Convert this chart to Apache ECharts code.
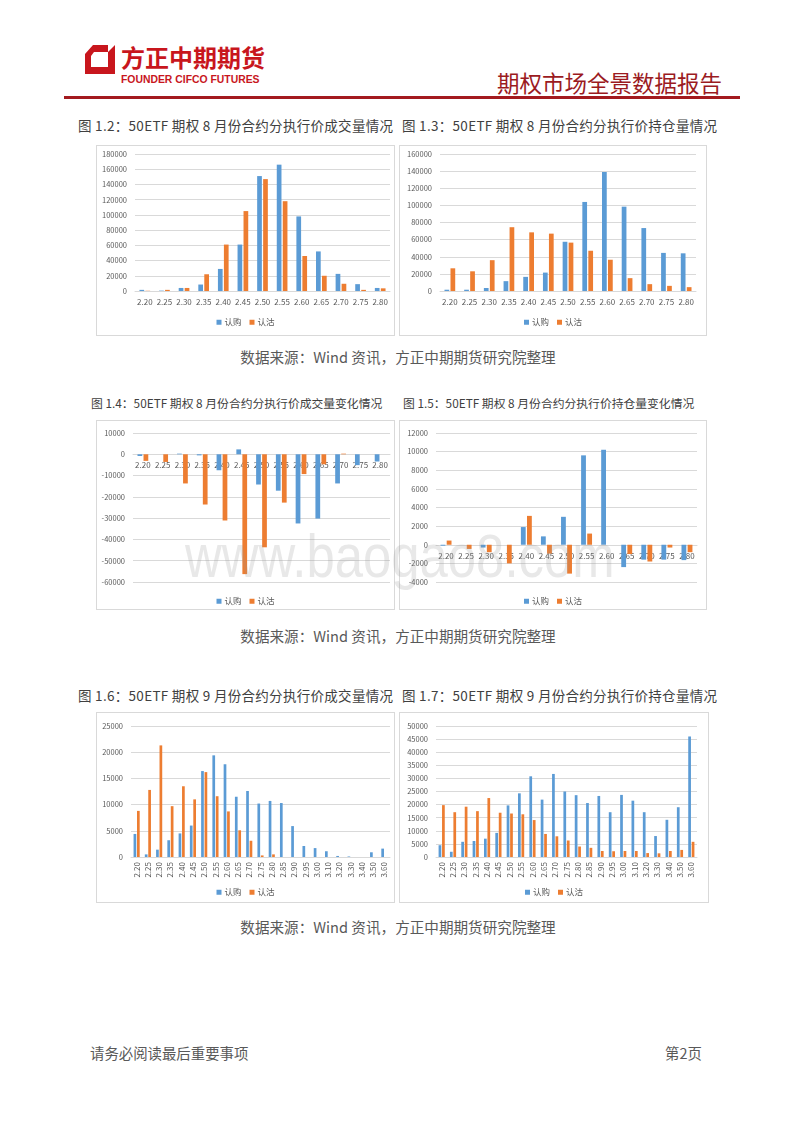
<!DOCTYPE html>
<html>
<head>
<meta charset="utf-8">
<script src="https://cdn.jsdelivr.net/npm/echarts@6/dist/echarts.min.js"></script>
<style>
  html, body { margin: 0; padding: 0; background: #fff; }
  body { width: 800px; height: 1132px; position: relative; overflow: hidden; font-family: "Noto Sans CJK SC", "Noto Sans", sans-serif; }
  .abs { position: absolute; white-space: nowrap; }
  .box { position: absolute; border: 1px solid #d9d9d9; box-sizing: border-box; background: #fff; }
  .chart { position: absolute; left: 0; top: 0; }
  .cap1 { font-size: 13.5px; letter-spacing: 0.3px; color: #404040; height: 20px; line-height: 20px; }
  .cap2 { font-size: 11.8px; color: #404040; height: 18px; line-height: 18px; }
  .src { font-size: 14.6px; color: #595959; width: 800px; text-align: center; left: -2px; height: 20px; line-height: 20px; }
  .foot { font-size: 14.4px; color: #595959; height: 20px; line-height: 20px; }
</style>
</head>
<body>
<!-- header -->
<svg class="abs" style="left:84px;top:45px" width="32" height="30" viewBox="0 0 32 30">
  <path d="M9 0 L31 0 L31 29 L1 29 L1 9 Z M10 7 L7 11 L7 22 L24 22 L24 7 Z" fill="#c8161d" fill-rule="evenodd"/>
  <path d="M24 0 L31 0 L24 7 Z" fill="#fff"/>
</svg>
<div class="abs" style="left:121px;top:43px;font-size:24px;font-weight:bold;color:#c8161d;height:28px;line-height:28px;">方正中期期货</div>
<div class="abs" style="left:121px;top:73px;font-family:'Liberation Sans',sans-serif;font-size:10.4px;font-weight:bold;color:#c8161d;height:13px;line-height:13px;">FOUNDER CIFCO FUTURES</div>
<div class="abs" style="left:497px;top:68px;font-size:22.5px;color:#9b1b1f;height:28px;line-height:28px;">期权市场全景数据报告</div>
<div class="abs" style="left:64px;top:96px;width:676px;height:3px;background:#a31a1f;"></div>

<!-- row 1 -->
<div class="abs cap1" style="left:78px;top:115px;">图 1.2：50ETF 期权 8 月份合约分执行价成交量情况</div>
<div class="abs cap1" style="left:402px;top:115px;">图 1.3：50ETF 期权 8 月份合约分执行价持仓量情况</div>
<div class="box" style="left:96px;top:145px;width:299px;height:191px;"><div id="c1" class="chart" style="width:297px;height:189px;"></div></div>
<div class="box" style="left:399px;top:145px;width:308px;height:191px;"><div id="c2" class="chart" style="width:306px;height:189px;"></div></div>
<div class="abs src" style="top:347px;">数据来源：Wind 资讯，方正中期期货研究院整理</div>

<!-- row 2 -->
<div class="abs cap2" style="left:91px;top:394px;">图 1.4：50ETF 期权 8 月份合约分执行价成交量变化情况</div>
<div class="abs cap2" style="left:403px;top:394px;">图 1.5：50ETF 期权 8 月份合约分执行价持仓量变化情况</div>
<div class="box" style="left:96px;top:420px;width:299px;height:190px;"><div id="c3" class="chart" style="width:297px;height:188px;"></div></div>
<div class="box" style="left:399px;top:420px;width:308px;height:190px;"><div id="c4" class="chart" style="width:306px;height:188px;"></div></div>
<div class="abs src" style="top:626px;">数据来源：Wind 资讯，方正中期期货研究院整理</div>

<!-- row 3 -->
<div class="abs cap1" style="left:78px;top:685px;">图 1.6：50ETF 期权 9 月份合约分执行价成交量情况</div>
<div class="abs cap1" style="left:402px;top:685px;">图 1.7：50ETF 期权 9 月份合约分执行价持仓量情况</div>
<div class="box" style="left:96px;top:712px;width:299px;height:191px;"><div id="c5" class="chart" style="width:297px;height:189px;"></div></div>
<div class="box" style="left:399px;top:712px;width:310px;height:191px;"><div id="c6" class="chart" style="width:308px;height:189px;"></div></div>
<div class="abs src" style="top:917px;">数据来源：Wind 资讯，方正中期期货研究院整理</div>

<!-- footer -->
<div class="abs foot" style="left:90px;top:1043px;">请务必阅读最后重要事项</div>
<div class="abs foot" style="left:665px;top:1043px;">第2页</div>

<!-- watermark -->
<div class="abs" style="left:185px;top:525px;font-family:'Liberation Sans',sans-serif;font-size:62px;line-height:62px;height:62px;color:rgba(150,150,150,0.22);transform:scaleX(0.82);transform-origin:left top;pointer-events:none;z-index:10;">www.baogao8.com</div>

<script>
// ---------- data ----------
const strikes8 = ['2.20','2.25','2.30','2.35','2.40','2.45','2.50','2.55','2.60','2.65','2.70','2.75','2.80'];
const strikes9 = ['2.20','2.25','2.30','2.35','2.40','2.45','2.50','2.55','2.60','2.65','2.70','2.75','2.80','2.85','2.90','2.95','3.00','3.10','3.20','3.30','3.40','3.50','3.60'];
const seriesNames = ['认购', '认沽'];

// 图1.2 8月成交量
const vol8Call = [1500, 500, 4000, 8500, 29000, 61000, 151000, 166000, 98000, 52000, 22500, 9000, 4000];
const vol8Put  = [300, 1500, 4000, 22000, 61000, 105000, 147000, 118000, 46000, 20000, 9500, 1500, 3500];
// 图1.3 8月持仓量
const oi8Call = [1500, 1500, 3500, 11500, 16500, 21500, 57500, 104000, 139000, 98500, 73500, 44500, 44000];
const oi8Put  = [26500, 23000, 36000, 74500, 68500, 67000, 56500, 47000, 36500, 15000, 8000, 6000, 4500];
// 图1.4 8月成交量变化
const dVol8Call = [-800, 0, 300, -500, -7500, 2300, -14200, -17100, -32500, -30200, -13700, -5100, -3400];
const dVol8Put  = [-3100, -3600, -13700, -23600, -31100, -56300, -43700, -22700, -9300, -4700, 300, 0, 0];
// 图1.5 8月持仓量变化
const dOi8Call = [-100, 0, -300, 0, 1900, 900, 3000, 9600, 10200, -2400, -1600, -1600, -1650];
const dOi8Put  = [450, -450, -800, -2000, 3100, -950, -3100, 1200, 0, -1000, -1800, -300, -800];
// 图1.6 9月成交量
const vol9Call = [4400, 500, 1400, 3200, 4500, 6000, 16400, 19400, 17700, 11500, 12600, 10200, 10700, 10300, 5900, 2100, 1700, 1100, 200, 100, 0, 900, 1600];
const vol9Put  = [8800, 12800, 21300, 9700, 13500, 11000, 16200, 11600, 8700, 5100, 3100, 300, 500, 0, 0, 0, 0, 0, 0, 0, 0, 0, 0];
// 图1.7 9月持仓量
const oi9Call = [4500, 2000, 5800, 6100, 7000, 9200, 19700, 24300, 30800, 21900, 31700, 25000, 23600, 20600, 23300, 17100, 23700, 21500, 17100, 8000, 14200, 19000, 46000];
const oi9Put  = [19800, 17100, 19200, 17500, 22500, 16900, 16600, 16300, 14100, 8800, 7900, 6300, 4000, 3500, 2300, 2200, 2300, 2300, 1500, 1400, 2300, 2700, 5800];

// y axis ticks [min, max, interval]
const ticks1 = [0, 180000, 20000];
const ticks2 = [0, 160000, 20000];
const ticks3 = [-60000, 10000, 10000];
const ticks4 = [-4000, 12000, 2000];
const ticks5 = [0, 25000, 5000];
const ticks6 = [0, 50000, 5000];

const BLUE = '#5b9bd5', ORANGE = '#ed7d31';

function makeChart(id, cats, callVals, putVals, ticks, grid, legendTop, rotate) {
  const chart = echarts.init(document.getElementById(id), null, { renderer: 'canvas' });
  chart.setOption({
    animation: false,
    textStyle: { fontFamily: '"Noto Sans CJK SC", "Noto Sans", sans-serif' },
    grid: grid,
    legend: {
      data: seriesNames,
      top: legendTop,
      left: 'center',
      icon: 'rect',
      itemWidth: 5,
      itemHeight: 5,
      itemGap: 8,
      textStyle: { fontSize: 8.5, color: '#595959', padding: [0, 0, 0, -2] }
    },
    xAxis: {
      type: 'category',
      data: cats,
      offset: 0,
      axisTick: { show: false },
      axisLine: { onZero: false, lineStyle: { color: '#d9d9d9', width: 1 } },
      axisLabel: { interval: 0, fontSize: 8, color: '#595959', rotate: rotate, margin: rotate ? 5 : 7 }
    },
    yAxis: {
      type: 'value',
      min: ticks[0], max: ticks[1], interval: ticks[2],
      axisLine: { show: false },
      axisTick: { show: false },
      splitLine: { lineStyle: { color: '#d9d9d9', width: 1 } },
      axisLabel: { fontSize: 7.5, color: '#595959', margin: 8, formatter: v => String(v) }
    },
    series: [
      { name: seriesNames[0], type: 'bar', data: callVals, itemStyle: { color: BLUE }, barWidth: '24%', barGap: '27%' },
      { name: seriesNames[1], type: 'bar', data: putVals, itemStyle: { color: ORANGE }, barWidth: '24%', barGap: '27%' }
    ]
  });
  // place the category axis (line + labels) at the value-axis zero, using the library's scale
  if (ticks[0] < 0) {
    const zeroY = chart.convertToPixel({ yAxisIndex: 0 }, 0);
    const minY = chart.convertToPixel({ yAxisIndex: 0 }, ticks[0]);
    chart.setOption({ xAxis: { offset: zeroY - minY } });
  }
  return chart;
}

makeChart('c1', strikes8, vol8Call, vol8Put, ticks1, { left: 38, right: 4, top: 8, bottom: 44 }, 167, 0);
makeChart('c2', strikes8, oi8Call, oi8Put, ticks2, { left: 40, right: 10, top: 8, bottom: 44 }, 167, 0);
makeChart('c3', strikes8, dVol8Call, dVol8Put, ticks3, { left: 36, right: 4, top: 12, bottom: 27 }, 171, 0);
makeChart('c4', strikes8, dOi8Call, dOi8Put, ticks4, { left: 36, right: 9, top: 12, bottom: 27 }, 171, 0);
makeChart('c5', strikes9, vol9Call, vol9Put, ticks5, { left: 34, right: 4, top: 13, bottom: 45 }, 170, 90);
makeChart('c6', strikes9, oi9Call, oi9Put, ticks6, { left: 36, right: 11, top: 13, bottom: 45 }, 170, 90);
</script>
</body>
</html>
